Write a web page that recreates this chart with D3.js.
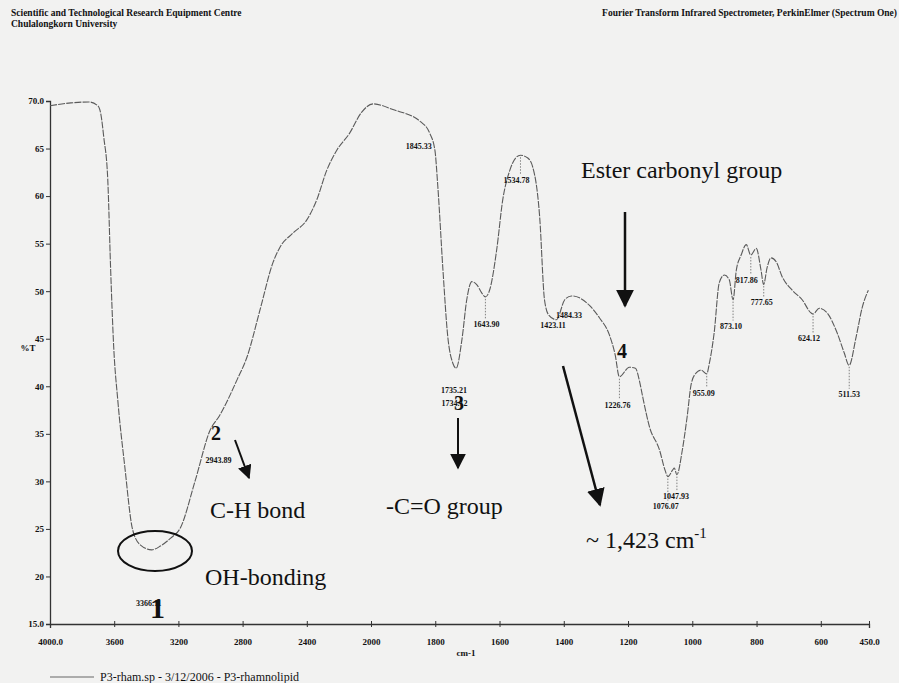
<!DOCTYPE html>
<html><head><meta charset="utf-8">
<script src="https://cdn.jsdelivr.net/npm/d3@7"></script>
<style>
html,body{margin:0;padding:0;background:#f2f2f1;}
svg{display:block;}
text{font-family:"Liberation Serif","Times New Roman",serif;fill:#111;}
</style></head><body>
<script>
// ---- data ----
const wavenumbers = [4000,3870,3758,3702,3684,3665,3640,3622,3603,3578,3535,3485,3436,3366,3312,3250,3188,3095,3002,2944,2834,2772,2692,2611,2568,2487,2400,2338,2276,2214,2134,2059,1994,1932,1845,1817,1801,1792,1776,1761,1745,1735,1717,1702,1686,1671,1655,1644,1630,1609,1590,1568,1550,1535,1512,1497,1475,1460,1447,1423,1397,1376,1351,1320,1289,1258,1240,1227,1196,1177,1164,1155,1133,1102,1085,1076,1061,1056,1048,1031,1016,1003,988,972,955,947,932,916,900,885,873,863,848,832,818,801,786,778,767,755,739,720,689,658,630,624,605,580,549,527,512,490,471,452];
const transmittance = [69.5,69.8,69.9,69.5,68.7,66.2,61.7,52.2,44.1,38.6,31.7,24.9,23.3,22.8,23.2,24.0,25.1,30.1,35.4,36.9,40.7,43.1,48.0,53.0,54.6,56.1,57.5,59.6,62.7,64.8,66.6,68.8,69.7,69.1,67.8,66.6,64.8,61.0,52.2,45.2,42.4,41.9,44.9,49.1,51.0,50.7,49.8,49.4,50.2,54.3,59.6,62.7,64.0,64.3,64.0,63.1,57.8,49.1,47.5,47.0,49.1,49.5,49.3,48.5,47.2,45.4,43.3,41.0,42.0,41.9,40.5,39.0,35.7,33.3,31.2,30.5,31.2,31.4,30.7,33.3,36.8,40.3,41.4,41.7,41.3,42.4,45.6,50.9,51.7,51.2,49.1,52.2,53.8,54.9,53.8,54.5,52.2,50.7,52.5,53.5,53.1,51.5,50.1,49.1,47.7,47.6,48.2,47.7,45.6,43.5,42.2,45.2,48.3,50.1];
const xTickValues = [4000,3600,3200,2800,2400,2000,1800,1600,1400,1200,1000,800,600,450];
const xTickLabels = ["4000.0","3600","3200","2800","2400","2000","1800","1600","1400","1200","1000","800","600","450.0"];
const yTickValues = [15,20,25,30,35,40,45,50,55,60,65,70];
const yTickLabels = ["15.0","20","25","30","35","40","45","50","55","60","65","70.0"];
const peakLabels = ["3366.11","2943.89","1845.33","1735.21","1734.12","1643.90","1534.78","1484.33","1423.11","1226.76","1076.07","1047.93","955.09","873.10","817.86","777.65","624.12","511.53"];
const peakWavenumbers = [3366.11,2943.89,1845.33,1735.21,1734.12,1643.90,1534.78,1484.33,1423.11,1226.76,1076.07,1047.93,955.09,873.10,817.86,777.65,624.12,511.53];
const headerLeft = ["Scientific and Technological Research Equipment Centre","Chulalongkorn University"];
const headerRight = "Fourier Transform Infrared Spectrometer, PerkinElmer (Spectrum One)";
const legendLabel = "P3-rham.sp - 3/12/2006 - P3-rhamnolipid";

// ---- drawing ----
const W = 899, H = 683;
const svg = d3.select("body").append("svg").attr("width", W).attr("height", H);
svg.append("rect").attr("width", W).attr("height", H).attr("fill", "#f2f2f1");

const x = d3.scaleLinear().domain([4000, 2000, 450]).range([50, 371, 869]);
const y = d3.scaleLinear().domain([15, 70]).range([624, 101]);

// headers
svg.append("text").attr("x", 11).attr("y", 16).attr("font-size", 9.5).attr("font-weight", "bold").text(headerLeft[0]);
svg.append("text").attr("x", 11).attr("y", 27).attr("font-size", 9.5).attr("font-weight", "bold").text(headerLeft[1]);
svg.append("text").attr("x", 897).attr("y", 16).attr("font-size", 9.5).attr("font-weight", "bold").attr("text-anchor", "end").text(headerRight);

// axes
const xAxis = d3.axisBottom(x).tickValues(xTickValues).tickFormat((d, i) => xTickLabels[i]).tickSizeOuter(0).tickSize(4).tickPadding(11);
const gx = svg.append("g").attr("transform", `translate(0,${y(15)})`).call(xAxis);
const yAxis = d3.axisLeft(y).tickValues(yTickValues).tickFormat((d, i) => yTickLabels[i]).tickSizeOuter(0).tickSize(4).tickPadding(2);
const gy = svg.append("g").attr("transform", `translate(${x(4000)},0)`).call(yAxis);
[gx, gy].forEach(g => {
  g.select(".domain").attr("stroke", "#333").attr("stroke-width", 1.3);
  g.selectAll(".tick line").attr("stroke", "#333");
  g.selectAll(".tick text").attr("font-family", "Liberation Serif").attr("font-size", 9).attr("font-weight", "bold").attr("fill", "#111");
});
gx.selectAll(".tick line").attr("y1", -3).attr("y2", 3);

svg.append("text").attr("x", 28).attr("y", 351).attr("font-size", 9).attr("font-weight", "bold").attr("text-anchor", "middle").text("%T");
svg.append("text").attr("x", 466).attr("y", 656).attr("font-size", 9).attr("font-weight", "bold").attr("text-anchor", "middle").text("cm-1");

// spectrum
const data = wavenumbers.map((w, i) => [w, transmittance[i]]);
const line = d3.line().x(d => x(d[0])).y(d => y(d[1])).curve(d3.curveMonotoneX);
svg.append("path").datum(data).attr("d", line).attr("fill", "none").attr("stroke", "#5a5a5a").attr("stroke-width", 1.1).attr("stroke-dasharray", "7,1.2");

// peak labels with dotted drop lines
const tAt = w => { for (let i = 0; i < wavenumbers.length - 1; i++) { if (w <= wavenumbers[i] && w >= wavenumbers[i+1]) { const t = (wavenumbers[i] - w) / (wavenumbers[i] - wavenumbers[i+1]); return transmittance[i] + t * (transmittance[i+1] - transmittance[i]); } } return transmittance[transmittance.length-1]; };
// label anchor offsets relative to the peak point on the curve (layout only)
const labelOffsets = {
  "3366.11": [-3, 56], "2943.89": [-1, 47], "1845.33": [-2, 27], "1735.21": [-2, 25], "1734.12": [-2, 39],
  "1643.90": [1, 30], "1534.78": [-4, 28], "1226.76": [-2, 31],
  "1076.07": [-2, 32], "1047.93": [-1, 24], "955.09": [-3, 22], "873.10": [-2, 29], "817.86": [-4, 28], "777.65": [-2, 21],
  "624.12": [-4, 27], "511.53": [0, 32]
};
const fixedLabelPos = { "1484.33": [569, 318], "1423.11": [553, 328] };
peakLabels.forEach((lab, i) => {
  const w = peakWavenumbers[i];
  const px = x(w), py = y(tAt(w));
  if (fixedLabelPos[lab]) {
    svg.append("text").attr("x", fixedLabelPos[lab][0]).attr("y", fixedLabelPos[lab][1]).attr("font-size", 8).attr("font-weight", "bold").attr("text-anchor", "middle").text(lab);
    return;
  }
  const off = labelOffsets[lab];
  if (off[1] > 14 && !["3366.11","2943.89","1845.33","1735.21","1734.12"].includes(lab)) {
    svg.append("line").attr("x1", px).attr("x2", px).attr("y1", py + 2).attr("y2", py + off[1] - 8)
      .attr("stroke", "#666").attr("stroke-width", 0.8).attr("stroke-dasharray", "1.5,1.5");
  }
  svg.append("text").attr("x", px + off[0]).attr("y", py + off[1]).attr("font-size", 8).attr("font-weight", "bold").attr("text-anchor", "middle").text(lab);
});

// annotations
const big = (t, xx, yy, fs, bold) => svg.append("text").attr("x", xx).attr("y", yy).attr("font-size", fs).attr("font-weight", bold ? "bold" : "normal").text(t);
svg.append("ellipse").attr("cx", 155).attr("cy", 551).attr("rx", 37).attr("ry", 20).attr("fill", "none").attr("stroke", "#111").attr("stroke-width", 2);
big("1", 150, 618, 30, true);
big("OH-bonding", 205, 585, 24, false);
big("2", 211, 440, 20, true);
big("C-H bond", 210, 518, 24, false);
big("3", 454, 410, 20, true);
big("-C=O group", 386, 514, 24, false);
big("Ester carbonyl group", 581, 178, 24, false);
big("4", 617, 358, 20, true);
const tilde = svg.append("text").attr("x", 586).attr("y", 548).attr("font-size", 24);
tilde.append("tspan").text("~ 1,423 cm");
tilde.append("tspan").attr("dy", -10).attr("font-size", 15).text("-1");

const defs = svg.append("defs");
const arrow = (x1, y1, x2, y2, sw, ms) => {
  const id = "ah" + Math.round(x1) + "_" + Math.round(y1);
  defs.append("marker").attr("id", id).attr("viewBox", "0 0 10 10").attr("refX", 9).attr("refY", 5)
    .attr("markerWidth", ms).attr("markerHeight", ms).attr("markerUnits", "userSpaceOnUse").attr("orient", "auto")
    .append("path").attr("d", "M0,0 L10,5 L0,10 Z").attr("fill", "#111");
  svg.append("line").attr("x1", x1).attr("y1", y1).attr("x2", x2).attr("y2", y2).attr("stroke", "#111").attr("stroke-width", sw).attr("marker-end", `url(#${id})`);
};
arrow(235, 440, 249, 478, 2, 14);
arrow(458, 418, 458, 468, 2, 16);
arrow(563, 366, 600, 505, 2.5, 18);
arrow(625, 212, 625, 306, 2.5, 18);

// legend
svg.append("line").attr("x1", 50).attr("x2", 94).attr("y1", 677).attr("y2", 677).attr("stroke", "#666").attr("stroke-width", 1);
svg.append("text").attr("x", 100).attr("y", 681).attr("font-size", 12).text(legendLabel);
</script>
</body></html>
